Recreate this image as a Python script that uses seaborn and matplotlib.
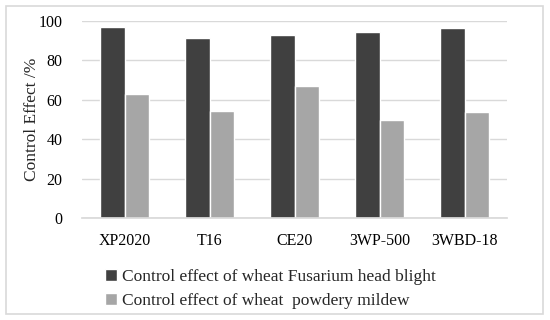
import matplotlib
matplotlib.use("Agg")
import matplotlib.pyplot as plt
import seaborn as sns
import pandas as pd
from matplotlib.patches import Rectangle

# data
devices = ["XP2020", "T16", "CE20", "3WP-500", "3WBD-18"]
blight = [97, 91.5, 93, 94.5, 96.5]
mildew = [63, 54.5, 67, 50, 54]
series_names = ["Control effect of wheat Fusarium head blight",
                "Control effect of wheat  powdery mildew"]

df = pd.DataFrame({
    "device": devices * 2,
    "value": blight + mildew,
    "series": [series_names[0]] * len(devices) + [series_names[1]] * len(devices),
})

sns.set_theme(style="white")
plt.rcParams['font.family'] = ['Liberation Serif', 'DejaVu Serif']

fig = plt.figure(figsize=(5.5, 3.2), dpi=100)
ax = fig.add_axes([82 / 550, 1 - 218 / 320, 425 / 550, 197 / 320])

sns.barplot(data=df, x="device", y="value", hue="series", order=devices,
            hue_order=series_names, palette=["#404040", "#a6a6a6"],
            width=0.565, saturation=1, ax=ax, legend=True)

ax.set_ylim(0, 100)
ax.set_yticks([0, 20, 40, 60, 80, 100])
ax.set_xlim(-0.5, len(devices) - 0.5)
ax.yaxis.grid(True, color="#d9d9d9", linewidth=1)
ax.set_axisbelow(True)
for s in ["top", "right", "left"]:
    ax.spines[s].set_visible(False)
ax.spines["bottom"].set_color("#d9d9d9")
ax.tick_params(axis="both", length=0, labelsize=11.5, colors="#000000")
ax.tick_params(axis="y", pad=14)
ax.tick_params(axis="x", pad=11)
ax.set_xlabel("")
ax.set_ylabel("Control Effect /%", fontsize=12.5, labelpad=-1)

handles, labels = ax.get_legend_handles_labels()
ax.legend(handles, labels, loc="upper left", bbox_to_anchor=(96 / 550, 1 - 260 / 320),
          bbox_transform=fig.transFigure, frameon=False, fontsize=12.5,
          handlelength=0.7, handleheight=0.7, handletextpad=0.3,
          labelspacing=0.45, borderpad=0)

fig.patches.append(Rectangle((6 / 550, 6 / 320), 537 / 550, 308 / 320,
                             transform=fig.transFigure, fill=False,
                             edgecolor="#d9d9d9", linewidth=1.2))

fig.savefig("out.png", dpi=100)
